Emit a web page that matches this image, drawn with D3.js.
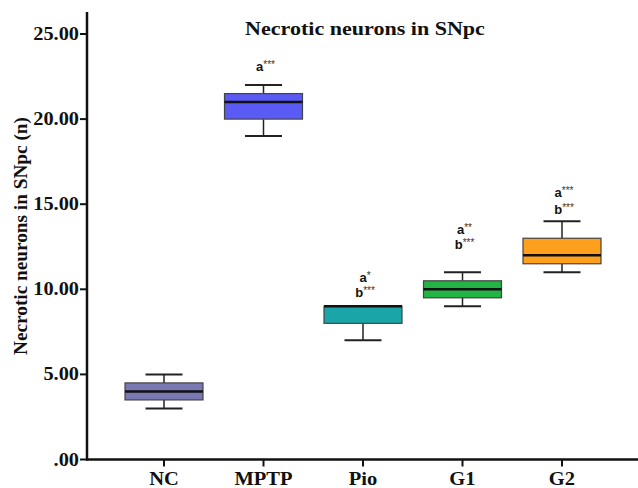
<!DOCTYPE html>
<html>
<head>
<meta charset="utf-8">
<script src="https://cdn.jsdelivr.net/npm/d3@7/dist/d3.min.js"></script>
<style>
  body { margin: 0; background: #fff; }
  svg { display: block; }
  .serif { font-family: "Liberation Serif", "Times New Roman", serif; font-weight: bold; }
  .note { font-family: "Liberation Sans", Arial, sans-serif; font-weight: bold; }
</style>
</head>
<body>
<script>
  // groups and box statistics
  var groups = ["NC", "MPTP", "Pio", "G1", "G2"];
  var whiskerLow = [3, 19, 7, 9, 11];
  var q1 = [3.5, 20, 8, 9.5, 11.5];
  var median = [4, 21, 9, 10, 12];
  var q3 = [4.5, 21.5, 9, 10.5, 13];
  var whiskerHigh = [5, 22, 9, 11, 14];
  var colors = ["#7878b2", "#5a5af5", "#1aa6a8", "#22b444", "#ffa01c"];

  // significance notes (stars after "a" and "b") and the value of their baselines
  var noteA = [null, "***", "*", "**", "***"];
  var noteB = [null, null, "***", "***", "***"];
  var noteAY = [null, 22.8, 10.45, 13.25, 15.4];
  var noteBY = [null, null, 9.52, 12.35, 14.45];

  var yTicks = [0, 5, 10, 15, 20, 25];

  var width = 638, height = 488;
  var svg = d3.select("body").append("svg")
    .attr("width", width)
    .attr("height", height);

  // the reference serif text is a bit wider than Liberation Serif: stretch it
  function stretch(sel, k) {
    sel.each(function () {
      var w = this.getComputedTextLength();
      d3.select(this)
        .attr("textLength", w * k)
        .attr("lengthAdjust", "spacingAndGlyphs");
    });
    return sel;
  }

  var axisX = 87;
  var y = d3.scaleLinear().domain([0, 25]).range([459.5, 34]);
  var x = d3.scalePoint().domain(groups).range([164, 562]);
  var boxW = 78, capW = 37;

  // y axis
  svg.append("line")
    .attr("x1", axisX).attr("x2", axisX)
    .attr("y1", 12).attr("y2", y(0) + 1)
    .attr("stroke", "#111").attr("stroke-width", 2.5);
  var yAxisG = svg.append("g");
  yTicks.forEach(function (t) {
    yAxisG.append("line")
      .attr("x1", axisX - 7).attr("x2", axisX)
      .attr("y1", y(t)).attr("y2", y(t))
      .attr("stroke", "#111").attr("stroke-width", 2);
    stretch(yAxisG.append("text")
      .attr("class", "serif")
      .attr("x", axisX - 8).attr("y", y(t) + 6)
      .attr("text-anchor", "end")
      .attr("font-size", 18)
      .attr("fill", "#111")
      .text(t === 0 ? ".00" : t.toFixed(2)), 1.13);
  });

  // x axis
  svg.append("line")
    .attr("x1", axisX - 1).attr("x2", width)
    .attr("y1", y(0)).attr("y2", y(0))
    .attr("stroke", "#111").attr("stroke-width", 2.5);
  groups.forEach(function (g) {
    svg.append("line")
      .attr("x1", x(g)).attr("x2", x(g))
      .attr("y1", y(0)).attr("y2", y(0) + 7)
      .attr("stroke", "#111").attr("stroke-width", 2);
    stretch(svg.append("text")
      .attr("class", "serif")
      .attr("x", x(g)).attr("y", 485)
      .attr("text-anchor", "middle")
      .attr("font-size", 19)
      .attr("fill", "#111")
      .text(g), 1.08);
  });

  // title
  stretch(svg.append("text")
    .attr("class", "serif")
    .attr("x", 365).attr("y", 35)
    .attr("text-anchor", "middle")
    .attr("font-size", 19)
    .attr("fill", "#111")
    .text("Necrotic neurons in SNpc"), 1.16);

  // y label
  stretch(svg.append("text")
    .attr("class", "serif")
    .attr("transform", "translate(27," + 236 + ") rotate(-90)")
    .attr("text-anchor", "middle")
    .attr("font-size", 18)
    .attr("fill", "#111")
    .text("Necrotic neurons in SNpc (n)"), 1.07);

  // boxes
  groups.forEach(function (g, i) {
    var cx = x(g);
    var bg = svg.append("g");
    // whisker stems
    bg.append("line")
      .attr("x1", cx).attr("x2", cx)
      .attr("y1", y(whiskerHigh[i])).attr("y2", y(q3[i]))
      .attr("stroke", "#222").attr("stroke-width", 1.5);
    bg.append("line")
      .attr("x1", cx).attr("x2", cx)
      .attr("y1", y(whiskerLow[i])).attr("y2", y(q1[i]))
      .attr("stroke", "#222").attr("stroke-width", 1.5);
    // caps
    [whiskerLow[i], whiskerHigh[i]].forEach(function (v) {
      if (v === q3[i]) { return; }
      bg.append("line")
        .attr("x1", cx - capW / 2).attr("x2", cx + capW / 2)
        .attr("y1", y(v)).attr("y2", y(v))
        .attr("stroke", "#222").attr("stroke-width", 2);
    });
    // box
    bg.append("rect")
      .attr("x", cx - boxW / 2)
      .attr("y", y(q3[i]))
      .attr("width", boxW)
      .attr("height", y(q1[i]) - y(q3[i]))
      .attr("fill", colors[i])
      .attr("stroke", "#444").attr("stroke-width", 1.2);
    // median
    bg.append("line")
      .attr("x1", cx - boxW / 2).attr("x2", cx + boxW / 2)
      .attr("y1", y(median[i])).attr("y2", y(median[i]))
      .attr("stroke", "#111").attr("stroke-width", 2.5);

    // notes: one text per group, one line for "a" and one for "b"
    if (noteA[i] == null) { return; }
    var t = svg.append("text")
      .attr("class", "note")
      .attr("y", y(noteAY[i]))
      .attr("text-anchor", "middle")
      .attr("font-size", 13)
      .attr("fill", "#111");
    var lines = [["a", noteA[i], noteAY[i]]];
    if (noteB[i] != null) { lines.push(["b", noteB[i], noteBY[i]]); }
    lines.forEach(function (n) {
      var line = t.append("tspan")
        .attr("x", cx + 2)
        .attr("y", y(n[2]));
      line.append("tspan").text(n[0]);
      line.append("tspan")
        .attr("dy", -3)
        .attr("font-size", 10)
        .attr("font-weight", "normal")
        .attr("fill", "#333")
        .text(n[1]);
    });
  });
</script>
</body>
</html>
